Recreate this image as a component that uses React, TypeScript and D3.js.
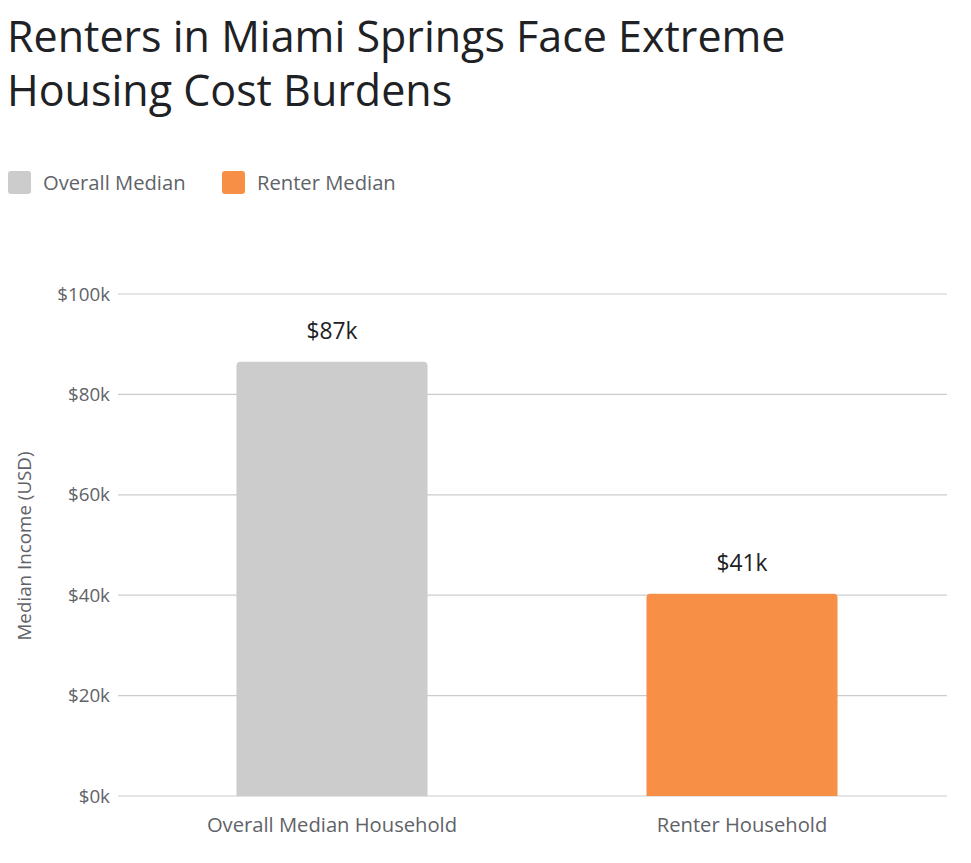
import React from "react";
import * as d3 from "d3";

const categories = ["Overall Median Household", "Renter Household"];
const values = [86.5, 40.3]; // thousands USD
const valueLabels = ["$87k", "$41k"];
const colors = ["#cccccc", "#f79046"];
const legendLabels = ["Overall Median", "Renter Median"];
const yTicks = [0, 20, 40, 60, 80, 100];

const W = 971;
const H = 863;

export default function App() {
  const y = d3.scaleLinear().domain([0, 100]).range([796, 294]);
  const x = d3
    .scaleBand<string>()
    .domain(categories)
    .range([127, 947])
    .paddingInner(0.534)
    .paddingOuter(0.267);
  const font = "'Open Sans', Roboto, sans-serif";
  const r = 4;
  const barPath = (x0: number, w: number, top: number, bottom: number) => {
    const p = d3.path();
    p.moveTo(x0, bottom);
    p.lineTo(x0, top + r);
    p.quadraticCurveTo(x0, top, x0 + r, top);
    p.lineTo(x0 + w - r, top);
    p.quadraticCurveTo(x0 + w, top, x0 + w, top + r);
    p.lineTo(x0 + w, bottom);
    p.closePath();
    return p.toString();
  };
  const legendX = [8, 222];
  return (
    <svg
      width={W}
      height={H}
      style={{ position: "absolute", left: 0, top: 0, background: "#fff" }}
      fontFamily={font}
    >
      <text x={7} y={52} fontSize={43} fill="#202124">
        Renters in Miami Springs Face Extreme
      </text>
      <text x={7} y={106} fontSize={43} fill="#202124">
        Housing Cost Burdens
      </text>
      {legendLabels.map((l, i) => (
        <g key={l}>
          <rect x={legendX[i]} y={171} width={23} height={23} rx={3} fill={colors[i]} />
          <text x={legendX[i] + 35} y={189.5} fontSize={20.2} fill="#5f6368">
            {l}
          </text>
        </g>
      ))}
      {yTicks.map((t) => (
        <g key={t}>
          <line x1={118} x2={947} y1={y(t)} y2={y(t)} stroke="#cccccc" strokeWidth={1.2} />
          <text x={110} y={y(t) + 6.5} fontSize={18.8} textAnchor="end" fill="#5f6368">
            {`$${t}k`}
          </text>
        </g>
      ))}
      <text
        transform={`translate(31,546) rotate(-90)`}
        fontSize={18.8}
        textAnchor="middle"
        fill="#5f6368"
      >
        Median Income (USD)
      </text>
      {categories.map((c, i) => {
        const bx = x(c)!;
        const bw = x.bandwidth();
        return (
          <g key={c}>
            <path d={barPath(bx, bw, y(values[i]), y(0))} fill={colors[i]} />
            <text
              x={bx + bw / 2}
              y={y(values[i]) - 23}
              fontSize={22.8}
              textAnchor="middle"
              fill="#202124"
            >
              {valueLabels[i]}
            </text>
            <text x={bx + bw / 2} y={832} fontSize={20.2} textAnchor="middle" fill="#5f6368">
              {c}
            </text>
          </g>
        );
      })}
    </svg>
  );
}
